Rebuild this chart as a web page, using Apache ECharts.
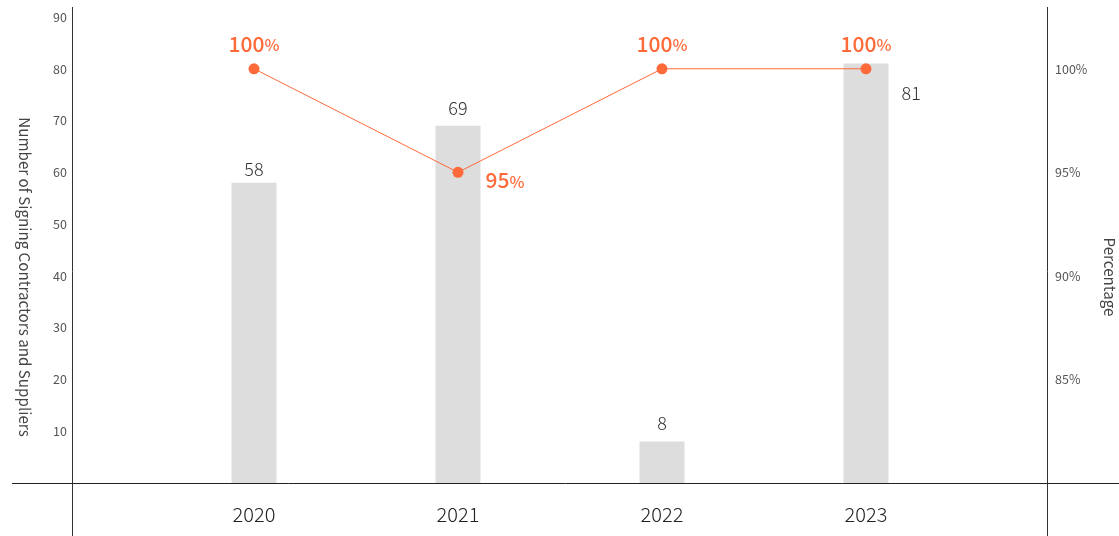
<!DOCTYPE html>
<html>
<head>
<meta charset="utf-8">
<style>
  html, body { margin: 0; padding: 0; background: #fff; }
  #chart { width: 1119px; height: 536px; }
</style>
<script src="https://cdn.jsdelivr.net/npm/echarts@6/dist/echarts.min.js"></script>
</head>
<body>
<div id="chart"></div>
<script>
// Yearly count of signing contractors/suppliers and the signing percentage
const years = ['2020', '2021', '2022', '2023'];
const signerCounts = [58, 69, 8, 81];
const signingRates = [100, 95, 100, 100];
const countTicks = { min: 0, max: 90, step: 10 };
const rateTicks = { min: 80, max: 102.5, step: 5 };

const FONT = '"Noto Sans CJK SC", "Noto Sans", sans-serif';
const ORANGE = '#ff6a3a';
const W = 1119, H = 536;
const grid = { left: 152, right: 151, top: 17, bottom: 53, outerBoundsMode: 'none' };
const axisLeftX = 72.5, axisRightX = 1047.5, baseY = H - grid.bottom + 0.5;

const chart = echarts.init(document.getElementById('chart'), null, { renderer: 'canvas' });

const rateLabel = (pos) => ({
  show: true,
  position: pos,
  distance: 9,
  formatter: (p) => '{n|' + p.value + '}{u|%}',
  rich: {
    n: { fontFamily: FONT, fontSize: 21, fontWeight: 500, color: ORANGE },
    u: { fontFamily: FONT, fontSize: 16, fontWeight: 500, color: ORANGE, padding: [3, 0, 0, 0] }
  }
});

const nameStyle = {
  fontFamily: FONT, fontSize: 15.2, fontWeight: 400, color: '#444',
  padding: [0, 0, 0, 54]
};

chart.setOption({
  animation: false,
  backgroundColor: '#fff',
  grid: grid,
  xAxis: {
    type: 'category',
    data: years,
    axisLine: { show: false },
    axisTick: { show: false },
    axisLabel: { fontFamily: FONT, fontSize: 20, fontWeight: 300, color: '#222', margin: 21 }
  },
  yAxis: [
    {
      type: 'value',
      min: countTicks.min, max: countTicks.max, interval: countTicks.step,
      position: 'left', offset: 80,
      name: 'Number of Signing Contractors and Suppliers',
      nameLocation: 'middle', nameRotate: -90, nameGap: 40,
      nameTextStyle: nameStyle,
      axisLine: { show: false }, axisTick: { show: false },
      splitLine: { show: false },
      axisLabel: { fontFamily: FONT, fontSize: 12.5, color: '#555', margin: 5, showMinLabel: false }
    },
    {
      type: 'value',
      min: rateTicks.min, max: rateTicks.max, interval: rateTicks.step,
      position: 'right', offset: 79,
      name: 'Percentage',
      nameLocation: 'middle', nameRotate: -90, nameGap: 55,
      nameTextStyle: nameStyle,
      axisLine: { show: false }, axisTick: { show: false },
      splitLine: { show: false },
      axisLabel: {
        fontFamily: FONT, fontSize: 12.5, color: '#555', margin: 8,
        showMinLabel: false, showMaxLabel: false,
        formatter: (v) => v + '%'
      }
    }
  ],
  graphic: [
    { type: 'line', silent: true, shape: { x1: axisLeftX, y1: 7, x2: axisLeftX, y2: H }, style: { stroke: '#333', lineWidth: 1 } },
    { type: 'line', silent: true, shape: { x1: axisRightX, y1: 7, x2: axisRightX, y2: H }, style: { stroke: '#333', lineWidth: 1 } },
    { type: 'line', silent: true, shape: { x1: 12, y1: baseY, x2: W, y2: baseY }, style: { stroke: '#222', lineWidth: 1 } }
  ],
  series: [
    {
      type: 'bar',
      data: signerCounts.map((v, i) => {
        if (i === 0) return { value: v, label: { distance: 5 } };
        if (i === 3) return { value: v, label: { position: [58, 21] } };
        return v;
      }),
      barWidth: 45,
      itemStyle: { color: '#dcdddc' },
      label: {
        show: true, position: 'top', distance: 9,
        fontFamily: FONT, fontSize: 18, fontWeight: 300, color: '#333'
      },
      z: 1
    },
    {
      type: 'line',
      yAxisIndex: 1,
      data: signingRates.map((v, i) => i === 1
        ? { value: v, label: { position: 'right', offset: [13, 8] } }
        : v),
      symbol: 'circle',
      symbolSize: 11,
      lineStyle: { color: ORANGE, width: 1 },
      itemStyle: { color: ORANGE },
      label: rateLabel('top'),
      z: 3
    }
  ]
});
</script>
</body>
</html>
